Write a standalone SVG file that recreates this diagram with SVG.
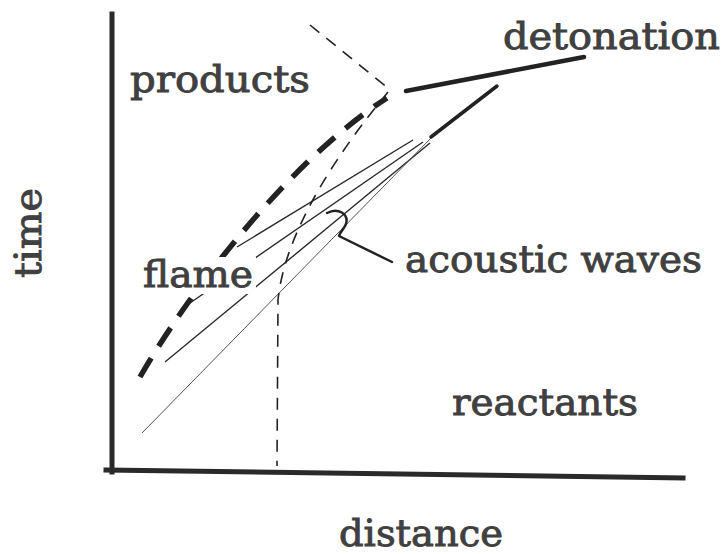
<svg xmlns="http://www.w3.org/2000/svg" width="728" height="554" viewBox="0 0 728 554">
<style>
.lbl{font-family:"DejaVu Serif","Liberation Serif",serif;font-size:37px;font-weight:normal;fill:#404040;stroke:#404040;stroke-width:0.9}
.axis{stroke:#2a2a2a;stroke-width:5;fill:none;stroke-linecap:square}
.thin{stroke:#2a2a2a;stroke-width:1.4;fill:none}
.faint{stroke:#555;stroke-width:1;fill:none}
.flame{stroke:#222;stroke-width:5.5;fill:none;stroke-dasharray:22 14}
.path{stroke:#222;stroke-width:1.6;fill:none;stroke-dasharray:12 9}
.det{stroke:#222;fill:none;stroke-linecap:round}
</style>
<rect width="728" height="554" fill="#fff"/>
<g id="axes">
<line class="axis" x1="112" y1="14" x2="112" y2="472"/>
<line class="axis" x1="106" y1="470" x2="683" y2="478"/>
</g>
<g id="connectors">
<path class="thin" d="M237,247 L413,140"/>
<path class="thin" d="M190,303 L423,142"/>
<path class="thin" d="M165,362 L430,143"/>
<path class="faint" d="M142,433 L432,137"/>
<path class="flame" d="M140,377 C190,290 290,160 387,98"/>
<path class="path" d="M310,25 L388,88"/>
<path class="path" d="M388,92 C340,150 285,230 278,300 L277,466"/>
<path class="det" stroke-width="4.5" d="M406,91 L584,57"/>
<path class="det" stroke-width="3.5" d="M431,137 L497,86"/>
<path stroke="#222" stroke-width="2.5" fill="none" stroke-linecap="round" stroke-linejoin="round" d="M327,213 C338,207 349,214 346,224 C344,229 340,232 339,236 L392,262"/>
</g>
<g id="label-products"><text class="lbl" x="130" y="92" textLength="180" lengthAdjust="spacingAndGlyphs">products</text></g>
<g id="label-detonation"><text class="lbl" x="503" y="49" textLength="217" lengthAdjust="spacingAndGlyphs">detonation</text></g>
<g id="label-flame"><rect x="141" y="257" width="115" height="37" fill="#fff"/><text class="lbl" x="143" y="287" textLength="110" lengthAdjust="spacingAndGlyphs">flame</text></g>
<g id="label-acoustic"><text class="lbl" x="405" y="272" textLength="297" lengthAdjust="spacingAndGlyphs">acoustic waves</text></g>
<g id="label-reactants"><text class="lbl" x="452" y="415" textLength="186" lengthAdjust="spacingAndGlyphs">reactants</text></g>
<g id="label-time"><text class="lbl" transform="translate(41,278) rotate(-90)" x="0" y="0" textLength="90" lengthAdjust="spacingAndGlyphs">time</text></g>
<g id="label-distance"><text class="lbl" x="339" y="546" textLength="164" lengthAdjust="spacingAndGlyphs">distance</text></g>
</svg>
